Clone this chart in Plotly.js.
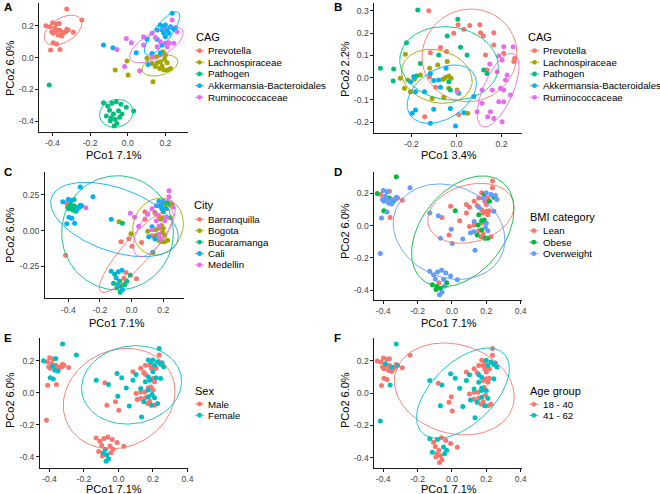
<!DOCTYPE html>
<html><head><meta charset="utf-8">
<script src="https://cdn.plot.ly/plotly-3.0.1.min.js"></script>
<style>html,body{margin:0;padding:0;background:#fff}#chart{width:660px;height:494px}</style>
</head><body><div id="chart"></div>
<script>
// ---------- categories ----------
const cagCats  = ['Prevotella','Lachnospiraceae','Pathogen','Akkermansia-Bacteroidales','Ruminococcaceae'];
const cityCats = ['Barranquilla','Bogota','Bucaramanga','Cali','Medellin'];
const bmiCats  = ['Lean','Obese','Overweight'];
const sexCats  = ['Male','Female'];
const ageCats  = ['18 - 40','41 - 62'];

// ---------- shared ordination (PCo1 7.1% / PCo2 6.0%) ----------
const pcoX = [-0.324,-0.244,-0.435,-0.413,-0.399,-0.378,-0.364,-0.387,-0.404,-0.396,-0.381,-0.364,-0.351,-0.342,-0.329,-0.316,-0.369,-0.351,-0.289,-0.396,-0.378,-0.410,-0.360,-0.324,
  -0.417,-0.129,-0.107,-0.084,-0.061,-0.036,-0.008,0.031,-0.114,-0.076,-0.049,-0.067,-0.088,-0.043,-0.058,-0.072,-0.093,-0.031,-0.097,
  -0.129,-0.079,0.045,0.108,0.102,0.156,0.173,0.188,0.200,0.182,0.209,0.227,0.236,0.244,0.253,0.191,0.218,0.200,0.156,0.182,0.173,0.129,
  -0.008,0.019,-0.017,0.063,0.084,0.129,0.147,0.218,0.244,0.262,0.236,0.200,0.173,0.156,0.209,0.129,0.084,-0.058,
  -0.067,-0.004,0.002,0.134,0.102,0.152,0.173,0.188,0.200,0.156,0.173,0.195,0.209,0.147,0.170,0.191,0.209,0.227,0.182,0.129];
const pcoY = [0.304,0.235,0.200,0.193,0.218,0.210,0.214,0.183,0.162,0.152,0.166,0.172,0.162,0.152,0.162,0.172,0.141,0.135,0.158,0.093,0.085,0.047,0.051,0.177,
  -0.172,-0.283,-0.304,-0.287,-0.277,-0.293,-0.312,-0.335,-0.367,-0.354,-0.333,-0.388,-0.377,-0.375,-0.413,-0.429,-0.396,-0.354,-0.330,
  0.078,0.062,0.030,-0.043,0.114,0.172,0.204,0.193,0.204,0.172,0.172,0.193,0.277,0.177,0.187,0.152,0.152,0.131,0.114,0.078,0.030,0.026,
  0.120,0.093,-0.057,-0.083,0.131,0.152,0.126,0.093,0.089,0.162,0.235,0.089,0.099,0.068,0.068,0.005,0.078,0.051,
  -0.078,-0.022,-0.110,-0.152,-0.005,0.005,0.016,0.036,0.016,-0.032,-0.026,-0.011,-0.032,-0.057,-0.068,-0.078,-0.078,-0.068,-0.053,-0.037];
const cag  = [0,0,0,0,0,0,0,0,0,0,0,0,0,0,0,0,0,0,0,0,0,0,0,0, 2,2,2,2,2,2,2,2,2,2,2,2,2,2,2,2,2,2,2,
  3,3,3,3,3,3,3,3,3,3,3,3,3,3,3,3,3,3,3,3,3,3, 4,4,4,4,4,4,4,4,4,4,4,4,4,4,4,4,4,4, 1,1,1,1,1,1,1,1,1,1,1,1,1,1,1,1,1,1,1,1];
const city = [3,3,3,0,3,3,2,2,2,2,2,2,2,3,3,3,2,2,4,3,3,3,3,2, 0,3,2,3,3,0,2,0,2,2,0,2,3,2,3,2,2,2,3,
  3,1,4,3,4,3,3,3,3,3,1,2,4,1,1,3,3,2,4,1,4,3, 4,4,0,0,0,4,1,4,1,4,4,1,0,4,4,4,0,2, 0,1,0,3,1,1,1,1,1,1,4,1,1,3,1,1,1,1,4,0];
const bmi  = [1,2,1,0,2,2,0,2,2,2,2,1,2,1,2,0,2,2,0,1,2,2,0,2, 2,2,2,2,2,2,2,2,1,0,2,1,1,2,2,2,1,1,2,
  2,2,0,2,0,0,0,1,2,2,0,2,0,1,2,0,1,0,2,0,1,2, 0,1,0,2,0,0,0,0,2,2,0,0,0,1,0,0,0,0, 2,2,2,2,0,1,0,1,2,0,1,2,2,1,0,1,1,0,0,2];
const sex  = [1,1,1,0,0,0,1,0,0,0,1,0,0,0,0,0,1,1,0,1,1,0,0,0, 0,0,0,0,0,0,0,0,0,1,0,1,1,0,1,1,0,0,0,
  1,0,1,0,1,0,1,1,1,0,1,1,1,1,1,0,0,1,0,1,0,1, 1,1,0,1,0,0,0,1,1,1,0,0,1,1,0,0,1,1, 0,1,0,1,0,0,1,0,0,0,1,1,1,1,0,1,0,1,0,0];
const age  = [1,0,0,0,0,0,0,1,0,0,0,0,1,0,0,1,0,0,0,0,0,0,1,0, 1,1,0,1,0,0,0,0,1,0,1,0,0,1,0,0,0,1,0,
  1,0,1,1,1,0,0,0,1,0,1,1,0,1,1,0,0,0,1,0,1,1, 1,1,0,1,0,0,0,0,1,1,0,0,1,1,0,0,1,1, 1,0,0,1,0,0,1,0,1,0,1,0,1,1,0,1,0,0,0,0];

// ---------- panel B ordination (PCo1 3.4% / PCo2 2.2%) ----------
const bX = [-0.123,-0.012,0.007,0.033,0.059,0.104,0.107,0.119,0.166,0.166,0.129,0.210,0.259,0.255,-0.116,-0.071,-0.044,-0.119,-0.093,-0.141,0.010,0.136,
  -0.227,-0.249,-0.231,-0.204,-0.187,-0.160,-0.119,-0.083,-0.041,-0.059,-0.049,-0.034,-0.024,-0.034,-0.108,-0.056,0.050,0.003,-0.216,
  -0.172,0.006,-0.041,-0.222,-0.079,0.018,0.047,0.121,0.136,-0.338,-0.279,-0.281,-0.178,-0.034,-0.027,0.010,-0.160,
  -0.190,-0.204,-0.182,-0.142,-0.116,-0.101,-0.079,-0.197,-0.182,-0.116,-0.101,-0.027,-0.004,0.033,0.077,-0.046,-0.071,
  0.210,0.252,0.188,0.203,0.148,0.181,0.225,0.218,0.114,0.159,0.196,0.210,0.240,0.188,0.210,0.114,0.151,0.166,0.203,0.139,0.092,0.003];
const bY = [0.300,0.199,0.237,0.217,0.234,0.237,0.202,0.187,0.202,0.147,0.102,0.109,0.087,0.072,0.112,0.135,0.117,0.004,-0.043,-0.175,-0.165,0.034,
  0.105,-0.003,-0.048,-0.063,-0.007,0.012,0.042,0.057,0.072,-0.007,0.001,0.007,-0.003,-0.048,-0.093,-0.088,-0.160,-0.055,-0.010,
  0.304,0.262,0.187,0.157,0.102,0.136,0.102,0.034,0.019,0.042,0.039,-0.015,0.007,-0.018,-0.055,-0.070,0.064,
  0.004,-0.018,-0.063,-0.063,0.019,-0.013,-0.010,-0.160,-0.145,-0.205,-0.142,-0.138,-0.217,-0.157,-0.085,0.042,-0.043,
  0.139,0.139,0.097,0.079,0.061,0.027,0.012,-0.010,-0.055,-0.055,-0.048,-0.055,-0.078,-0.108,-0.108,-0.115,-0.153,-0.183,-0.198,-0.175,-0.153,-0.063];
const bCag = [0,0,0,0,0,0,0,0,0,0,0,0,0,0,0,0,0,0,0,0,0,0,
  1,1,1,1,1,1,1,1,1,1,1,1,1,1,1,1,1,1,1,
  2,2,2,2,2,2,2,2,2,2,2,2,2,2,2,2,2,
  3,3,3,3,3,3,3,3,3,3,3,3,3,3,3,3,3,
  4,4,4,4,4,4,4,4,4,4,4,4,4,4,4,4,4,4,4,4,4,4];

// ---------- 95% ellipses: [centre x, centre y, half-width x, half-height y, phase deg] ----------
const ellA = [[-0.344,0.172,0.100,0.094,63],[0.171,-0.050,0.095,0.066,69],[-0.061,-0.350,0.089,0.088,84],[0.182,0.151,0.094,0.136,37],[0.152,0.080,0.142,0.113,50]];
const ellB = [[0.058,0.100,0.211,0.208,88],[-0.087,0.006,0.157,0.121,100],[-0.033,0.064,0.219,0.165,95],[-0.065,-0.074,0.154,0.131,68],[0.185,-0.056,0.093,0.165,50]];
const ellC = [[0.030,-0.144,0.234,0.288,28],[0.167,0.028,0.160,0.198,84],[-0.089,-0.016,0.353,0.398,90],[-0.108,0.077,0.403,0.259,117],[0.143,0.016,0.132,0.198,50]];
const ellD = [[0.110,0.077,0.251,0.186,77],[0.063,-0.035,0.298,0.344,67],[-0.017,-0.037,0.325,0.296,100]];
const ellE = [[0.004,-0.037,0.324,0.314,82],[0.076,0.049,0.290,0.245,85]];
const ellF = [[0.014,0.026,0.349,0.285,100],[0.064,0.000,0.270,0.280,57]];

// ---------- tick labels ----------
const ticks4 = [-0.4,-0.2,0.0,0.2];          const ticks4Txt = ['-0.4','-0.2','0.0','0.2'];
const ticks5 = [-0.4,-0.2,0.0,0.2,0.4];      const ticks5Txt = ['-0.4','-0.2','0.0','0.2','0.4'];
const yTicks = [-0.4,-0.2,0.0,0.2];          const yTicksTxt = ['-0.4','-0.2','0.0','0.2'];
const bXTicks = [-0.2,0.0,0.2];              const bXTicksTxt = ['-0.2','0.0','0.2'];
const bYTicks = [-0.2,-0.1,0.0,0.1,0.2,0.3]; const bYTicksTxt = ['-0.2','-0.1','0.0','0.1','0.2','0.3'];
const cYTicks = [-0.25,0.0,0.25];            const cYTicksTxt = ['-0.25','0.00','0.25'];

// ---------- styles ----------
const pal5 = ['#F8766D','#A3A500','#00BF7D','#00B0F6','#E76BF3'];
const pal3 = ['#F8766D','#00BA38','#619CFF'];
const pal2 = ['#F8766D','#00BFC4'];
const W = 660, H = 494;
const fx = v => v / W, fy = v => 1 - v / H;

const panels = [
  {letter:'A', xs:pcoX, ys:pcoY, grp:cag,  cats:cagCats,  pal:pal5, ell:ellA, lt:'CAG',
   dom:[39.3,188,3.3,131.7], xr:[-0.47,0.32], yr:[-0.465,0.34], xt:[ticks4,ticks4Txt], yt:[yTicks,yTicksTxt],
   xTitle:'PCo1 7.1%', yTitle:'PCo2 6.0%', xtp:[114,154.5], ytp:[10,68], lp:{tx:195,ty:37,kx:195,y0:50.7,dy:11.65,tx2:207}, lp0:[3,7]},
  {letter:'B', xs:bX, ys:bY, grp:bCag, cats:cagCats, pal:pal5, ell:ellB, lt:'CAG',
   dom:[374.3,521.7,3,132.7], xr:[-0.365,0.29], yr:[-0.247,0.335], xt:[bXTicks,bXTicksTxt], yt:[bYTicks,bYTicksTxt],
   xTitle:'PCo1 3.4%', yTitle:'PCo2 2.2%', xtp:[449,154.5], ytp:[345,69], lp:{tx:526.7,ty:37,kx:530,y0:50.7,dy:11.65,tx2:541.7}, lp0:[333,7]},
  {letter:'C', xs:pcoX, ys:pcoY, grp:city, cats:cityCats, pal:pal5, ell:ellC, lt:'City',
   dom:[45,184,171.7,298.3], xr:[-0.547,0.331], yr:[-0.472,0.41], xt:[ticks4,ticks4Txt], yt:[cYTicks,cYTicksTxt],
   xTitle:'PCo1 7.1%', yTitle:'PCo2 6.0%', xtp:[117,323], ytp:[10,235], lp:{tx:193.3,ty:205,kx:195,y0:219.3,dy:11.4,tx2:206.7}, lp0:[3,172]},
  {letter:'D', xs:pcoX, ys:pcoY, grp:bmi, cats:bmiCats, pal:pal3, ell:ellD, lt:'BMI category',
   dom:[374.3,521.7,171.7,300], xr:[-0.452,0.406], yr:[-0.461,0.335], xt:[ticks5,ticks5Txt], yt:[yTicks,yTicksTxt],
   xTitle:'PCo1 7.1%', yTitle:'PCo2 6.0%', xtp:[449,323], ytp:[345,231], lp:{tx:529,ty:217.3,kx:529.3,y0:230.7,dy:11.5,tx2:541.7}, lp0:[333,172]},
  {letter:'E', xs:pcoX, ys:pcoY, grp:sex, cats:sexCats, pal:pal2, ell:ellE, lt:'Sex',
   dom:[40,188.3,338.3,467.7], xr:[-0.455,0.405], yr:[-0.469,0.34], xt:[ticks5,ticks5Txt], yt:[yTicks,yTicksTxt],
   xTitle:'PCo1 7.1%', yTitle:'PCo2 6.0%', xtp:[114,489], ytp:[10,400], lp:{tx:194.3,ty:390.7,kx:195,y0:404,dy:11.2,tx2:207.3}, lp0:[3,338]},
  {letter:'F', xs:pcoX, ys:pcoY, grp:age, cats:ageCats, pal:pal2, ell:ellF, lt:'Age group',
   dom:[374.3,521.7,338.3,467.7], xr:[-0.452,0.406], yr:[-0.462,0.34], xt:[ticks5,ticks5Txt], yt:[yTicks,yTicksTxt],
   xTitle:'PCo1 7.1%', yTitle:'PCo2 6.0%', xtp:[449,489], ytp:[345,400], lp:{tx:529,ty:390.7,kx:529.3,y0:404.3,dy:11,tx2:541.7}, lp0:[333,338]}
];

function ellipseXY(row) {
  const [cx, cy, hx, hy, ph] = row, phi = ph * Math.PI / 180, xs = [], ys = [];
  for (let k = 0; k <= 144; k++) {
    const t = 2 * Math.PI * k / 144;
    xs.push(cx + hx * Math.cos(t));
    ys.push(cy + hy * Math.cos(t - phi));
  }
  return [xs, ys];
}

const traces = [], annotations = [], shapes = [];
const layout = {width:W, height:H, margin:{l:0,r:0,t:0,b:0}, showlegend:false,
  paper_bgcolor:'#fff', plot_bgcolor:'#fff', font:{family:'Liberation Sans, Arial, sans-serif', color:'#000'}};

panels.forEach((p, i) => {
  const n = i === 0 ? '' : String(i + 1);
  const xa = 'x' + n, ya = 'y' + n;
  p.cats.forEach((c, g) => {
    const X = [], Y = [];
    p.grp.forEach((v, k) => { if (v === g) { X.push(p.xs[k]); Y.push(p.ys[k]); } });
    traces.push({type:'scatter', mode:'markers', x:X, y:Y, xaxis:xa, yaxis:ya, name:c, hoverinfo:'skip',
      marker:{size:5, color:p.pal[g], line:{width:0}}});
  });
  p.cats.forEach((c, g) => {
    const [ex, ey] = ellipseXY(p.ell[g]);
    traces.push({type:'scatter', mode:'lines', x:ex, y:ey, xaxis:xa, yaxis:ya, name:c, hoverinfo:'skip',
      line:{color:p.pal[g], width:0.9}});
  });
  const common = {showline:true, linecolor:'#000', linewidth:0.9, ticks:'outside', ticklen:3, tickwidth:0.9,
    tickcolor:'#000', showgrid:false, zeroline:false, tickfont:{size:8.6, color:'#444'}, fixedrange:true};
  layout['xaxis' + n] = Object.assign({}, common, {domain:[fx(p.dom[0]), fx(p.dom[1])], range:p.xr, anchor:ya,
    tickmode:'array', tickvals:p.xt[0], ticktext:p.xt[1]});
  layout['yaxis' + n] = Object.assign({}, common, {domain:[fy(p.dom[3]), fy(p.dom[2])], range:p.yr, anchor:xa,
    tickmode:'array', tickvals:p.yt[0], ticktext:p.yt[1]});
  annotations.push({text:'<b>' + p.letter + '</b>', xref:'paper', yref:'paper', x:fx(p.lp0[0]), y:fy(p.lp0[1]),
    xanchor:'left', yanchor:'middle', showarrow:false, borderpad:0, font:{size:11.5, color:'#000'}});
  annotations.push({text:p.xTitle, xref:'paper', yref:'paper', x:fx(p.xtp[0]), y:fy(p.xtp[1]),
    xanchor:'center', yanchor:'middle', showarrow:false, borderpad:0, font:{size:11, color:'#000'}});
  annotations.push({text:p.yTitle, xref:'paper', yref:'paper', x:fx(p.ytp[0]), y:fy(p.ytp[1]), textangle:-90,
    xanchor:'center', yanchor:'middle', showarrow:false, borderpad:0, font:{size:11, color:'#000'}});
  const L = p.lp;
  annotations.push({text:p.lt, xref:'paper', yref:'paper', x:fx(L.tx), y:fy(L.ty),
    xanchor:'left', yanchor:'middle', showarrow:false, borderpad:0, font:{size:11, color:'#000'}});
  p.cats.forEach((c, g) => {
    const yc = L.y0 + g * L.dy;
    shapes.push({type:'line', xref:'paper', yref:'paper', x0:fx(L.kx), x1:fx(L.kx + 9), y0:fy(yc), y1:fy(yc),
      line:{color:p.pal[g], width:0.9}});
    shapes.push({type:'circle', xref:'paper', yref:'paper', xsizemode:'pixel', ysizemode:'pixel',
      xanchor:fx(L.kx + 4.5), yanchor:fy(yc), x0:-2.4, x1:2.4, y0:-2.4, y1:2.4,
      fillcolor:p.pal[g], line:{width:0}});
    annotations.push({text:c, xref:'paper', yref:'paper', x:fx(L.tx2), y:fy(yc),
      xanchor:'left', yanchor:'middle', showarrow:false, borderpad:0, font:{size:9.7, color:'#000'}});
  });
});
layout.annotations = annotations;
layout.shapes = shapes;
Plotly.newPlot('chart', traces, layout, {displayModeBar:false, staticPlot:true});
</script></body></html>
